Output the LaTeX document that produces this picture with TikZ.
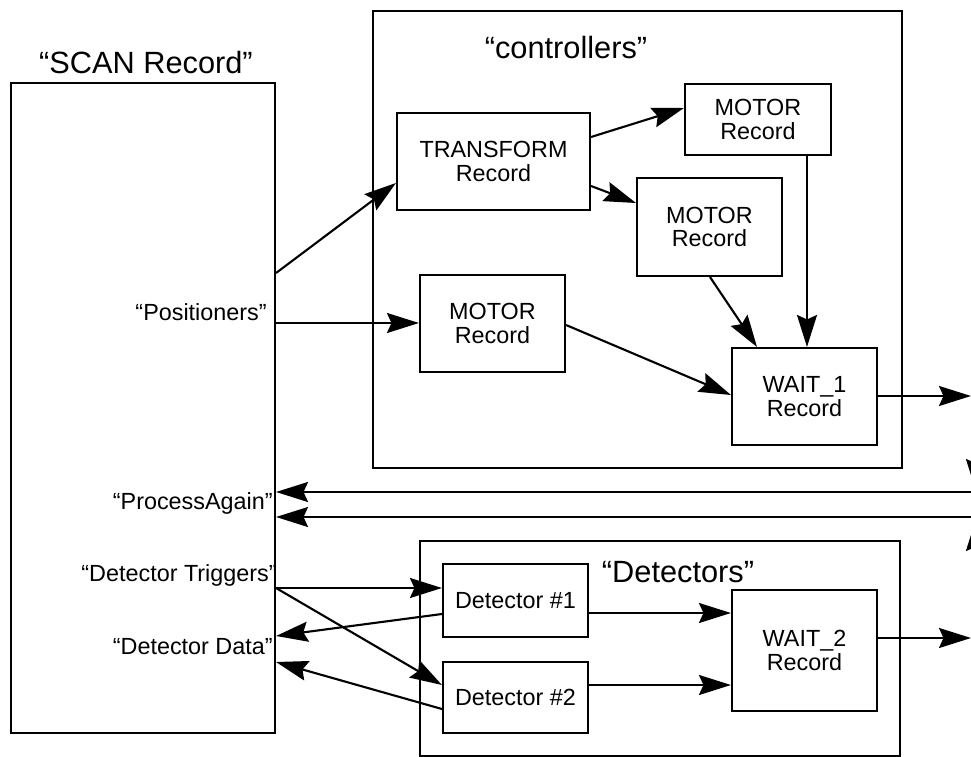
\documentclass[tikz,border=0pt]{standalone}
\usepackage{fontspec}
\setmainfont{Liberation Sans}
\usetikzlibrary{arrows.meta}

\begin{document}
\begin{tikzpicture}[x=0.02cm, y=-0.02cm, >={Stealth[length=6.4mm,width=4mm,inset=0.9mm]},
		rec/.style={draw, line width=1.2pt, inner sep=0pt, align=center, font=\fontsize{13.3}{13.2}\selectfont},
		grp/.style={draw, line width=1.2pt, inner sep=0pt},
		lbl/.style={anchor=east, inner sep=0pt, font=\fontsize{13.3}{15}\selectfont},
		head/.style={inner sep=0pt, font=\fontsize{17.5}{20}\selectfont},
		conn/.style={->, line width=1.2pt}]
		%\draw [help lines] (0,0) grid (971,757);
		\useasboundingbox (0,0) rectangle (971,757);
		\clip (0,0) rectangle (971,757);

		% groups
		\node[grp, minimum width=10.58cm, minimum height=9.14cm] (ctrl) at (637.5,239.5) {};
		\node[grp, minimum width=9.6cm, minimum height=4.3cm] (dets) at (660,648.5) {};
		\node[head] (ctrllbl) at (566,48) {“controllers”};
		\node[head] (detlbl) at (678,572) {“Detectors”};

		% scan record
		\node[grp, minimum width=5.28cm, minimum height=13cm] (scan) at (143,408) {};
		\node[head] (scanlbl) at (146,63) {“SCAN Record”};
		\node[lbl] (pos) at (267,312) {“Positioners”};
		\node[lbl] (again) at (273,503) {“ProcessAgain”};
		\node[lbl] (trig) at (277,575) {“Detector Triggers”};
		\node[lbl] (data) at (273,647) {“Detector Data”};

		% records
		\node[rec, minimum width=3.86cm, minimum height=1.94cm] (tr) at (493.5,161.5) {TRANSFORM\\Record};
		\node[rec, minimum width=2.92cm, minimum height=1.42cm] (motA) at (758,119.5) {MOTOR\\Record};
		\node[rec, minimum width=2.9cm, minimum height=1.96cm] (motB) at (709.5,227) {MOTOR\\Record};
		\node[rec, minimum width=2.9cm, minimum height=1.94cm] (motC) at (492.5,323.5) {MOTOR\\Record};
		\node[rec, minimum width=2.9cm, minimum height=1.94cm] (waitA) at (804.5,396.5) {WAIT\_1\\Record};
		\node[rec, minimum width=2.9cm, minimum height=1.46cm] (detA) at (515.5,600.5) {Detector \#1};
		\node[rec, minimum width=2.9cm, minimum height=1.42cm] (detB) at (515.5,697.5) {Detector \#2};
		\node[rec, minimum width=2.9cm, minimum height=2.42cm] (waitB) at (804.5,650.5) {WAIT\_2\\Record};

		% free ends at the right edge
		\coordinate (outA) at (971,396);
		\coordinate (outB) at (971,638);
		\coordinate (inA) at (971,492);
		\coordinate (inB) at (971,517);
		\coordinate (offA) at (976,420);
		\coordinate (offB) at (976,491);
		\coordinate (offC) at (976,600);
		\coordinate (offD) at (976,519);

		% controllers
		\draw[conn] (scan.east |- 0,273) -- (tr.west |- 0,183);
		\draw[conn] (tr.east |- 0,137) -- (motA.west |- 0,108);
		\draw[conn] (tr.east |- 0,186) -- (motB.west |- 0,203);
		\draw[conn] (motA.south -| 807,0) -- (waitA.north -| 807,0);
		\draw[conn] (motB.south -| 710,0) -- (waitA.north -| 757,0);
		\draw[conn] (scan.east |- 0,323) -- (motC.west |- 0,323);
		\draw[conn] (motC.east |- 0,325) -- (waitA.west |- 0,395);
		\draw[conn] (waitA.east |- outA) -- (outA);

		% process again
		\draw[conn] (inA) -- (scan.east |- inA);
		\draw[conn] (inB) -- (scan.east |- inB);
		\draw[conn] (offA) -- (offB);
		\draw[conn] (offC) -- (offD);

		% detectors
		\draw[conn] (scan.east |- 0,588) -- (detA.west |- 0,588);
		\draw[conn] (scan.east |- 0,588) -- (detB.west |- 0,685);
		\draw[conn] (detA.west |- 0,614) -- (scan.east |- 0,636);
		\draw[conn] (detB.west |- 0,709) -- (scan.east |- 0,662);
		\draw[conn] (detA.east |- 0,613) -- (waitB.west |- 0,613);
		\draw[conn] (detB.east |- 0,685) -- (waitB.west |- 0,685);
		\draw[conn] (waitB.east |- outB) -- (outB);
	\end{tikzpicture}
\end{document}
